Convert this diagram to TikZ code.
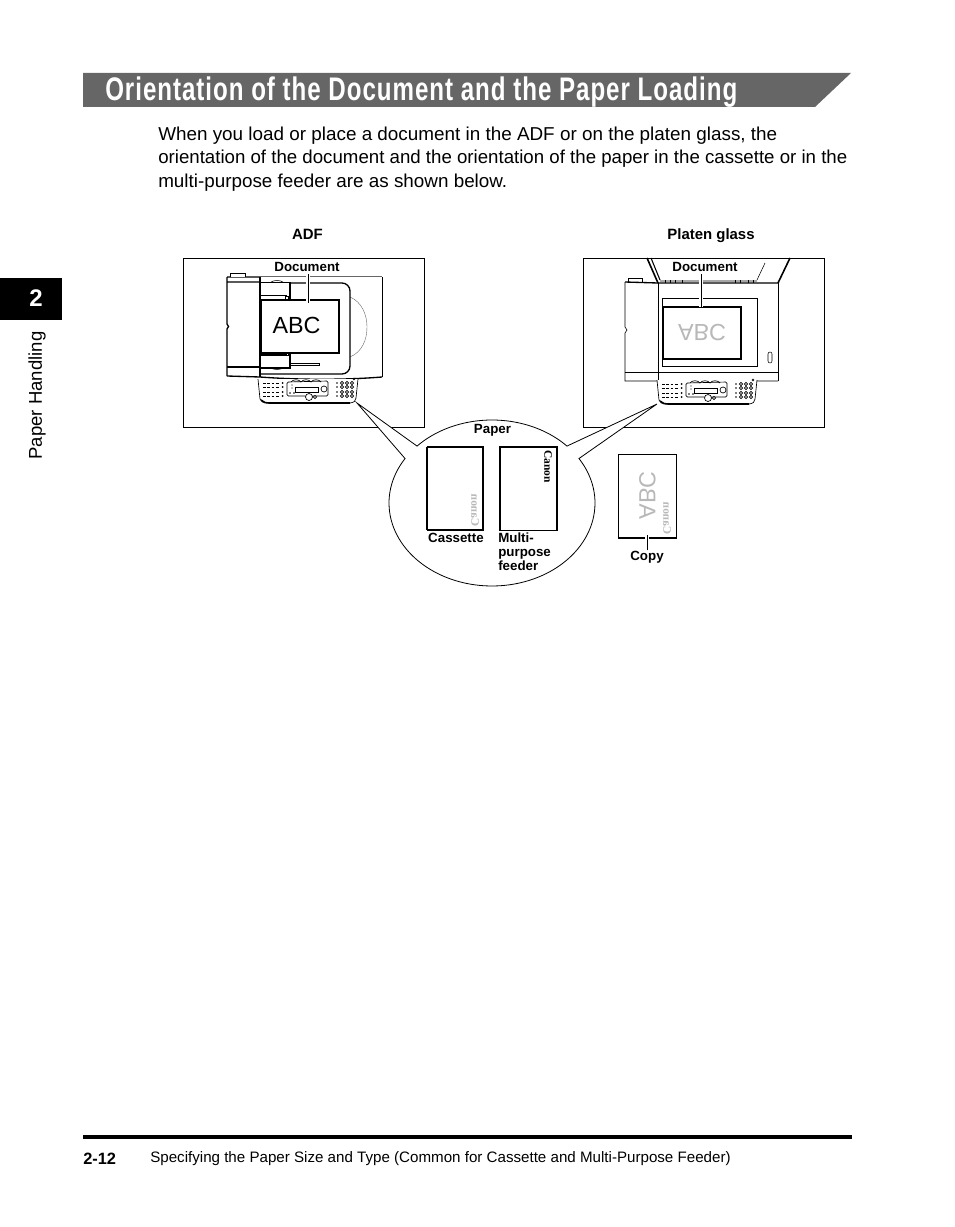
\documentclass[tikz,border=0pt]{standalone}
\usepackage{fontspec}
\setmainfont{Liberation Sans}
\newfontfamily\serifcanon{Liberation Serif}
\definecolor{band}{gray}{0.4}
\definecolor{ghost}{gray}{0.72}
\newcommand{\canonlogo}{{\serifcanon\bfseries\fontsize{8.6}{9}\selectfont Canon}}
\tikzset{
  lbl/.style={font=\bfseries\fontsize{10}{12}\selectfont,inner sep=0pt},
  toplbl/.style={font=\bfseries\fontsize{11.2}{13}\selectfont,inner sep=0pt},
  bodyline/.style={anchor=base west,inner sep=0pt,font=\fontsize{14}{16}\selectfont},
  thinl/.style={line width=0.5pt},
  thickl/.style={line width=1.5pt},
  midl/.style={line width=1pt},
  panel/.pic={
    \draw[line width=.5pt,fill=white] (0,1) -- (2,21) .. controls (2.5,24) and (5,24.5) .. (10,25) -- (92,25) .. controls (96,24.5) and (98,23) .. (98,20) -- (100,1);
    \draw[line width=1.2pt] (3,22) .. controls (5,24.5) and (8,25) .. (12,25) -- (92,25);
    \foreach \yy in {5,9,14,18} {
      \draw[line width=.7pt,dash pattern=on 2.2pt off 1pt] (5,\yy) -- (21,\yy);
      \fill (24.5,\yy) circle (1);
      \foreach \xx in {84,89,94} \draw[line width=.5pt] (\xx,\yy) circle (1.6);
      \fill (79,\yy) circle (.9);
    }
    \draw[line width=.5pt,rounded corners=1pt] (29,4) -- (70,3) -- (70,18) -- (29,18) -- cycle;
    \foreach \xx in {33,43,53} \draw[line width=.5pt] (\xx,4) .. controls (\xx+2,1) and (\xx+8,1) .. (\xx+10,4);
    \draw[line width=.5pt] (37,9) rectangle (60,14);
    \draw[line width=.5pt] (66,11) circle (3);
    \draw[line width=.5pt,fill=white] (51,19) circle (3.5);
    \draw[line width=.5pt,fill=white] (57,19) circle (1.6);
    \fill (32,15) circle (.9) (36,15) circle (.9) (34,7) circle (.6) (34,10) circle (.6);
    \draw[line width=.4pt] (96,1) circle (1);
  }
}
\begin{document}
\begin{tikzpicture}[x=0.75pt,y=-0.75pt]
\useasboundingbox (0,0) rectangle (954,1227);
% Title band
\fill[band] (83,73) -- (851,73) -- (815,107) -- (83,107) -- cycle;
\node[anchor=west,inner sep=0pt,text=white] (title) at (105,92) {\resizebox{474pt}{\height}{\addfontfeature{LetterSpace=4}\bfseries\fontsize{24.5}{26}\selectfont Orientation of the Document and the Paper Loading}};
% Body text
\node[bodyline] (b1) at (158,141) {\resizebox{464.25pt}{\height}{When you load or place a document in the ADF or on the platen glass, the}};
\node[bodyline] (b2) at (158,164) {orientation of the document and the orientation of the paper in the cassette or in the};
\node[bodyline] (b3) at (158,187) {\resizebox{261.75pt}{\height}{multi-purpose feeder are as shown below.}};
% Side tab
\fill[black] (0,278) rectangle (62,320);
\node[text=white,font=\bfseries\fontsize{18}{20}\selectfont,inner sep=0pt] (chapter) at (36,298) {2};
\node[rotate=90,font=\fontsize{13.9}{16}\selectfont,inner sep=0pt] (side) at (37,395.5) {Paper Handling};
% Footer
\draw[line width=2.3pt] (83,1137) -- (852,1137);
\node[anchor=west,inner sep=0pt,font=\bfseries\fontsize{12.3}{14}\selectfont] (pageno) at (83,1159) {2-12};
\node[anchor=west,inner sep=0pt,font=\fontsize{11.35}{13}\selectfont] (foot) at (150,1159) {Specifying the Paper Size and Type (Common for Cassette and Multi-Purpose Feeder)};
% Section labels
\node[toplbl,anchor=base] (adf) at (307.5,239.5) {ADF};
\node[toplbl,anchor=base] (platen) at (711,239.5) {Platen glass};
% Boxes
\draw[thinl] (183,258) rectangle (424,427);
\draw[thinl] (583,258) rectangle (824,427);
% ---- ADF printer
\draw[line width=.3pt,draw=black!60] (350,297) .. controls (362,302) and (367,315) .. (367,327) .. controls (367,340) and (362,352) .. (350,357);
\draw[line width=1.2pt,draw=black!60] (260,276.5) -- (382,276.5);
\draw[line width=.7pt] (382,277) -- (382,377);
\draw[midl] (227,376) -- (260,377) .. controls (300,380) and (345,380) .. (382,377);
\draw[midl,rounded corners=6pt] (260,283) -- (350,283) -- (350,374) -- (260,374);
\draw[midl] (227,277) -- (260,277) (227,282) -- (260,282) (227,277) -- (227,324) -- (228.5,326.5) -- (227,329) -- (227,376);
\draw[thinl,fill=white] (230,277) -- (230,273) -- (245,273) -- (245,277);
\draw[midl] (227,367) -- (260,367);
\draw[line width=1.3pt] (260,277) -- (260,377);
\draw[thinl,fill=white] (260,282) rectangle (290,299);
\draw[thinl] (260,282) -- (290,282);
\draw[midl] (260,295.5) -- (287,295.5);
\draw[midl] (290,282) -- (290,299);
\draw[thinl] (285,296) rectangle (288,299);
\draw[thinl,fill=white] (260,352) rectangle (290,368);
\draw[midl] (260,368) -- (290,368);
\draw[midl] (260,355) -- (287,355);
\draw[midl] (290,352) -- (290,368);
\draw[thinl] (285,352) rectangle (288,355);
\draw[line width=.4pt] (271,368) .. controls (274,370) and (280,370) .. (283,368);
\draw[line width=.4pt] (271,282) .. controls (274,280) and (280,280) .. (283,282);
\draw[line width=.4pt] (290,363) rectangle (319,365);
\node[draw,line width=1.3pt,fill=white,minimum width=58.5pt,minimum height=39.75pt,inner sep=0pt,anchor=north west] (adfdoc) at (260,299) {};
\node[font=\fontsize{17.5}{18}\selectfont,inner sep=0pt] (adfabc) at (296.5,325) {ABC};
\node[lbl] (adfdl) at (307,267) {Document};
\coordinate (adfdoct) at (308,303);
\draw[white,line width=2.5pt] (308,275) -- (adfdoct);
\draw[thinl] (308,274) -- (adfdoct);
\pic at (258,378) {panel};
% ---- Platen printer
\draw[line width=.8pt] (651,258) -- (660,280);
\draw[line width=.4pt] (765,263) -- (757,280);
\draw[line width=1.2pt] (647,258) -- (658,283);
\draw[line width=1.2pt] (790,258) -- (778,283);
\fill[black!35] (660,279.5) rectangle (757,282);
\foreach \xx in {665,670,675,682,735,740,748,753} \draw[line width=.5pt] (\xx,280) -- (\xx,283);
\draw[thinl,fill=white] (628,282) -- (628,278) -- (642,278) -- (642,282);
\draw[midl] (625,282) -- (658,283) -- (778,283);
\draw[thinl] (778,283) -- (778,381);
\draw[thinl] (625,282) -- (625,327) -- (627,330) -- (625,333) -- (625,381) -- (778,381);
\draw[thinl] (658,283) -- (658,381);
\draw[thinl] (625,372) -- (778,372);
\draw[thinl] (662,298) rectangle (757,366);
\node[draw,line width=1.5pt,fill=white,minimum width=58.5pt,minimum height=38.75pt,inner sep=0pt,anchor=north west] (platdoc) at (662,306) {};
\node[font=\fontsize{17.5}{18}\selectfont,inner sep=0pt,text=ghost] (platabc) at (702,333) {\scalebox{1}[-1]{ABC}};
\draw[line width=.4pt,rounded corners=1.5pt] (768,352) rectangle (772,363);
\node[lbl] (platdl) at (705,267) {Document};
\coordinate (platdoct) at (701,307);
\draw[white,line width=2.5pt] (701,275) -- (platdoct);
\draw[thinl] (701,274) -- (platdoct);
\pic at (657,379) {panel};
% ---- Balloon
\coordinate (tipl) at (357,403);
\coordinate (tipr) at (657,404);
\draw[line width=.6pt,fill=white] (tipl) -- plot[domain=223.3:316.7,samples=50] ({492+103*cos(\x)},{503+83*sin(\x)}) -- (tipr) -- plot[domain=-32.4:212.4,samples=90] ({492+103*cos(\x)},{503+83*sin(\x)}) -- cycle;
% Papers
\node[lbl] (paper) at (492.5,430.5) {Paper};
\draw[line width=.9pt] (427,447) -- (427,530);
\draw[line width=1.5pt] (426.5,447) -- (483,447) -- (483,530) -- (426.5,530);
\node[rotate=90,text=ghost,inner sep=0pt] (logo1) at (475,510.5) {\scalebox{1}[-1]{\canonlogo}};
\draw[line width=1.2pt] (500,530.5) -- (500,447) -- (557,447) -- (557,530.5);
\draw[line width=1.4pt] (499.5,530.5) -- (557.5,530.5);
\node[rotate=-90,inner sep=0pt] (logo2) at (548,466.5) {\canonlogo};
\node[lbl,anchor=base] (cass) at (456,542) {Cassette};
\node[lbl,anchor=base west] (m1) at (498,542) {Multi-};
\node[lbl,anchor=base west] (m2) at (498,556) {purpose};
\node[lbl,anchor=base west] (m3) at (498,570) {feeder};
% Copy
\draw[line width=.7pt] (618,538) -- (618,454) -- (676,454) -- (676,538);
\draw[line width=1.6pt] (617.5,538) -- (676.5,538);
\node[rotate=90,text=ghost,inner sep=0pt,font=\fontsize{17.5}{18}\selectfont] (copyabc) at (647.5,495.5) {\scalebox{1}[-1]{ABC}};
\node[rotate=90,text=ghost,inner sep=0pt] (logo3) at (667,518.5) {\scalebox{1}[-1]{\canonlogo}};
\node[lbl,anchor=base] (copy) at (647,560) {Copy};
\coordinate (copyt) at (647,535);
\draw[white,line width=2.5pt] (647,549) -- (647,534);
\draw[thinl] (copy.north) -- (copyt);
\end{tikzpicture}
\end{document}
